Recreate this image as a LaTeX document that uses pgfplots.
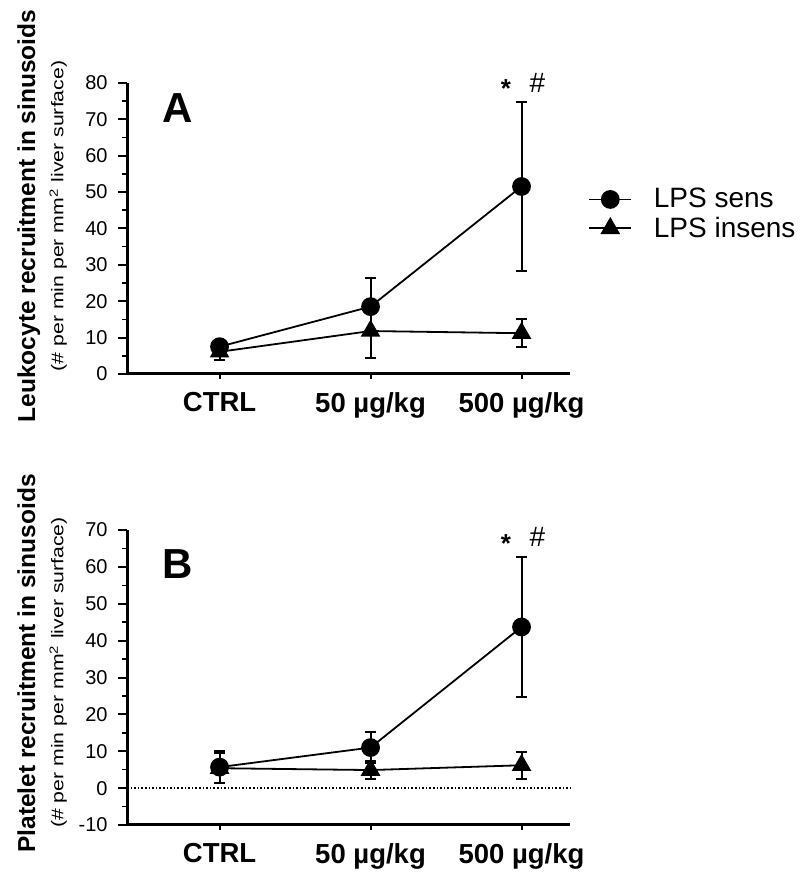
\documentclass[border=0pt]{standalone}
\usepackage{fontspec}
\setmainfont{Liberation Sans}
\usepackage{graphicx}
\usepackage{pgfplots}
\pgfplotsset{compat=1.18}
\pgfplotsset{
  myax/.style={
    scale only axis, width=221.5pt,
    xmin=-0.613, xmax=2.321,
    axis lines=left, axis line style={-, line width=1.5pt},
    xtick={0,1,2},
    xticklabels={CTRL, 50 µg/kg, 500 µg/kg},
    xticklabel style={font=\bfseries\fontsize{13.75}{16}\selectfont, yshift=-1.3pt},
    yticklabel style={font=\fontsize{10}{12}\selectfont, xshift=-1.7pt},
    /pgf/number format/assume math mode=true,
    tick align=outside,
    major tick length=4.5pt, minor tick length=2.5pt,
    tick style={black, line width=1pt},
    minor tick style={line width=0.8pt},
    xtick style={/pgfplots/major tick length=2.5pt},
    minor y tick num=1,
    clip=false,
  },
  sens/.style={black, line width=0.9pt, mark=*, mark size=4.25pt, mark options={solid},
    error bars/.cd, y dir=both, y explicit,
    error bar style={line width=1pt},
    error mark options={rotate=90, mark size=2.8pt, line width=1pt}},
  insens/.style={black, line width=0.9pt, mark=triangle*, mark size=4.8pt, mark options={solid},
    error bars/.cd, y dir=both, y explicit,
    error bar style={line width=1pt},
    error mark options={rotate=90, mark size=2.8pt, line width=1pt}},
}
\begin{document}
\begin{tikzpicture}
\useasboundingbox (0pt,0pt) rectangle (400pt,442pt);
% Panel A
\begin{axis}[myax, at={(63.5pt,255pt)}, anchor=south west, height=145.65pt,
  ymin=0, ymax=80, ytick={0,10,...,80},
  legend style={at={(1.0406,0.549)}, anchor=west, draw=none, fill=none,
    font=\fontsize{14}{16}\selectfont, inner sep=0pt, row sep=3pt,
    nodes={inner sep=0pt},
    /tikz/every odd column/.append style={column sep=10.85pt}},
  legend cell align=left,
  legend image code/.code={\draw[mark repeat=2,mark phase=2,#1] plot coordinates {(0pt,0pt) (10.5pt,0pt) (21pt,0pt)};},
]
\addplot[sens] coordinates {(0,7.5) +- (0,1.5) (1,18.5) +- (0,7.8) (2,51.5) +- (0,23.1)};
\addplot[insens] coordinates {(0,6.1) +- (0,2.3) (1,11.8) +- (0,7.5) (2,11.2) +- (0,3.9)};
\legend{LPS sens, LPS insens}
\end{axis}
% Panel B
\begin{axis}[myax, at={(63.5pt,29.5pt)}, anchor=south west, height=147.5pt,
  ymin=-10, ymax=70, ytick={-10,0,...,70}]
\addplot[black, line width=0.8pt, dash pattern=on 0.8pt off 1pt, forget plot] coordinates {(-0.613,0) (2.321,0)};
\addplot[sens] coordinates {(0,5.7) +- (0,4.3) (1,11.0) +- (0,4.2) (2,43.7) +- (0,19)};
\addplot[insens] coordinates {(0,5.4) +- (0,4.0) (1,4.9) +- (0,2.4) (2,6.2) +- (0,3.6)};
\end{axis}
% Labels
\node[rotate=90, anchor=base, font=\bfseries\fontsize{12.25}{14}\selectfont] at (17.5pt,334pt) {Leukocyte recruitment in sinusoids};
\node[rotate=90, anchor=base, font=\fontsize{8.5}{10}\selectfont] at (31.7pt,334pt) {\scalebox{1.25}[1]{(\# per min per mm\textsuperscript{2} liver surface)}};
\node[rotate=90, anchor=base, font=\bfseries\fontsize{12.25}{14}\selectfont] at (17.5pt,110.25pt) {Platelet recruitment in sinusoids};
\node[rotate=90, anchor=base, font=\fontsize{8.5}{10}\selectfont] at (31.7pt,105.75pt) {\scalebox{1.25}[1]{(\# per min per mm\textsuperscript{2} liver surface)}};
\node[font=\bfseries\fontsize{21}{24}\selectfont] at (89pt,388pt) {A};
\node[font=\bfseries\fontsize{21}{24}\selectfont] at (88.75pt,160pt) {B};
\node[anchor=base, font=\bfseries\fontsize{13}{15}\selectfont] at (253pt,393pt) {*};
\node[anchor=base, font=\fontsize{14}{16}\selectfont] at (268.75pt,395.5pt) {\#};
\node[anchor=base, font=\bfseries\fontsize{13}{15}\selectfont] at (253pt,165.65pt) {*};
\node[anchor=base, font=\fontsize{14}{16}\selectfont] at (268.75pt,168.5pt) {\#};
\end{tikzpicture}
\end{document}
